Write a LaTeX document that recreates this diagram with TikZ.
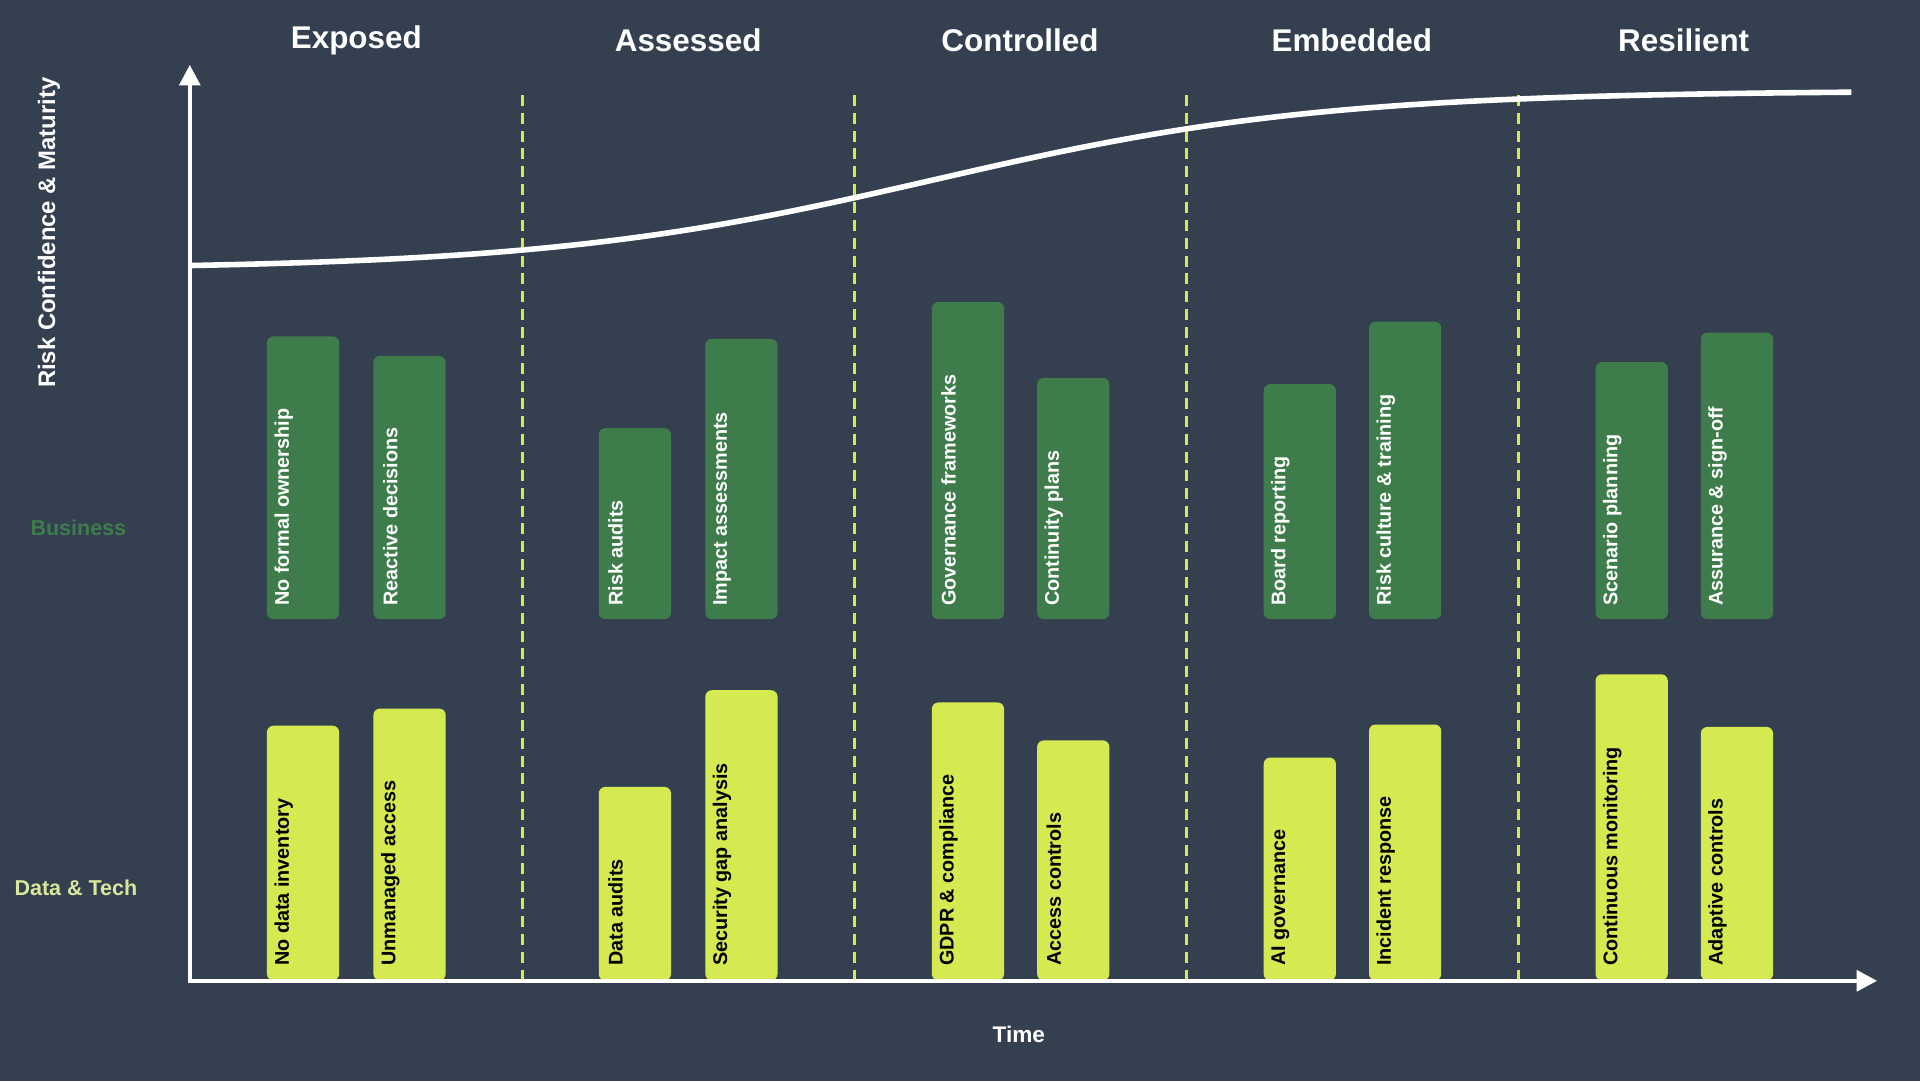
\documentclass[tikz,border=0pt]{standalone}
\usepackage{fontspec}
\setmainfont{Liberation Sans}
\usetikzlibrary{arrows.meta}
\definecolor{bgslate}{HTML}{343F50}
\definecolor{busgreen}{HTML}{3E7D4B}
\definecolor{datlime}{HTML}{D4EA50}
\definecolor{datpale}{HTML}{D9E69B}
\newcommand{\barwd}{1.18cm}

\tikzset{
  busbar/.style={fill=busgreen, rounded corners=3pt, minimum width=\barwd, inner sep=0, anchor=south},
  datbar/.style={fill=datlime, rounded corners=3pt, minimum width=\barwd, inner sep=0, anchor=south},
  buslbl/.style={rotate=90, anchor=west, inner sep=0, text=white, font=\bfseries\fontsize{9.2}{11}\selectfont},
  datlbl/.style={buslbl, text=black},
  stage/.style={text=white, font=\bfseries\fontsize{14.6}{17}\selectfont},
  phase/.style={draw=datlime, line width=1.4pt, dash pattern=on 5.1pt off 3.2pt},
  axisline/.style={draw=white, line width=1.8pt, {Triangle[length=9.5pt,width=9.6pt]}-{Triangle[length=9.5pt,width=9.6pt]}},
}

\begin{document}
\begin{tikzpicture}[x=.02cm, y=.02cm]

        \fill[bgslate] (0,0) rectangle (1568,883);
        \useasboundingbox (0,0) rectangle (1568,883);

          % stages
        \node[stage] (exposed) at (291,850) {Exposed};
        \node[stage] (assessed) at (562,850) {Assessed};
        \node[stage] (controlled) at (833,850) {Controlled};
        \node[stage] (embedded) at (1104,850) {Embedded};
        \node[stage] (resilient) at (1375,850) {Resilient};

        \draw[phase] (427,82) -- (427,810);
        \draw[phase] (698,82) -- (698,810);
        \draw[phase] (969,82) -- (969,810);
        \draw[phase] (1240,82) -- (1240,810);

          % maturity curve
        \draw[white, line width=2.6pt] plot[domain=155:1512, samples=120] (\x, {663+146/(1+exp(-(\x-762)/159))});

          % Exposed
        \node[busbar, minimum height=4.62cm] (b11) at (247.5,377) {};
        \node[busbar, minimum height=4.30cm] (b12) at (334.5,377) {};
        \node[datbar, minimum height=4.16cm] (d11) at (247.5,82) {};
        \node[datbar, minimum height=4.44cm] (d12) at (334.5,82) {};
        \node[buslbl] (lb11) at ([xshift=.28cm,yshift=.22cm]b11.south west) {No formal ownership};
        \node[buslbl] (lb12) at ([xshift=.28cm,yshift=.22cm]b12.south west) {Reactive decisions};
        \node[datlbl] (ld11) at ([xshift=.28cm,yshift=.24cm]d11.south west) {No data inventory};
        \node[datlbl] (ld12) at ([xshift=.28cm,yshift=.24cm]d12.south west) {Unmanaged access};

          % Assessed
        \node[busbar, minimum height=3.12cm] (b21) at (518.5,377) {};
        \node[busbar, minimum height=4.58cm] (b22) at (605.5,377) {};
        \node[datbar, minimum height=3.16cm] (d21) at (518.5,82) {};
        \node[datbar, minimum height=4.74cm] (d22) at (605.5,82) {};
        \node[buslbl] (lb21) at ([xshift=.28cm,yshift=.22cm]b21.south west) {Risk audits};
        \node[buslbl] (lb22) at ([xshift=.28cm,yshift=.22cm]b22.south west) {Impact assessments};
        \node[datlbl] (ld21) at ([xshift=.28cm,yshift=.24cm]d21.south west) {Data audits};
        \node[datlbl] (ld22) at ([xshift=.28cm,yshift=.24cm]d22.south west) {Security gap analysis};

          % Controlled
        \node[busbar, minimum height=5.18cm] (b31) at (790.5,377) {};
        \node[busbar, minimum height=3.94cm] (b32) at (876.5,377) {};
        \node[datbar, minimum height=4.54cm] (d31) at (790.5,82) {};
        \node[datbar, minimum height=3.92cm] (d32) at (876.5,82) {};
        \node[buslbl] (lb31) at ([xshift=.28cm,yshift=.22cm]b31.south west) {Governance frameworks};
        \node[buslbl] (lb32) at ([xshift=.28cm,yshift=.22cm]b32.south west) {Continuity plans};
        \node[datlbl] (ld31) at ([xshift=.28cm,yshift=.24cm]d31.south west) {GDPR \& compliance};
        \node[datlbl] (ld32) at ([xshift=.28cm,yshift=.24cm]d32.south west) {Access controls};

          % Embedded
        \node[busbar, minimum height=3.84cm] (b41) at (1061.5,377) {};
        \node[busbar, minimum height=4.86cm] (b42) at (1147.5,377) {};
        \node[datbar, minimum height=3.64cm] (d41) at (1061.5,82) {};
        \node[datbar, minimum height=4.18cm] (d42) at (1147.5,82) {};
        \node[buslbl] (lb41) at ([xshift=.28cm,yshift=.22cm]b41.south west) {Board reporting};
        \node[buslbl] (lb42) at ([xshift=.28cm,yshift=.22cm]b42.south west) {Risk culture \& training};
        \node[datlbl] (ld41) at ([xshift=.28cm,yshift=.24cm]d41.south west) {AI governance};
        \node[datlbl] (ld42) at ([xshift=.28cm,yshift=.24cm]d42.south west) {Incident response};

          % Resilient
        \node[busbar, minimum height=4.20cm] (b51) at (1332.5,377) {};
        \node[busbar, minimum height=4.68cm] (b52) at (1418.5,377) {};
        \node[datbar, minimum height=5.00cm] (d51) at (1332.5,82) {};
        \node[datbar, minimum height=4.14cm] (d52) at (1418.5,82) {};
        \node[buslbl] (lb51) at ([xshift=.28cm,yshift=.22cm]b51.south west) {Scenario planning};
        \node[buslbl] (lb52) at ([xshift=.28cm,yshift=.22cm]b52.south west) {Assurance \& sign-off};
        \node[datlbl] (ld51) at ([xshift=.28cm,yshift=.24cm]d51.south west) {Continuous monitoring};
        \node[datlbl] (ld52) at ([xshift=.28cm,yshift=.24cm]d52.south west) {Adaptive controls};

          % axes
        \coordinate (origin) at (155,82);
        \coordinate (ytop) at (155,830);
        \coordinate (xend) at (1533,82);
        \draw[axisline] (ytop) -- (origin) -- (xend);

        \node[rotate=90, text=white, font=\bfseries\fontsize{11.1}{13}\selectfont] (ylab) at (40,693) {Risk Confidence \& Maturity};
        \node[text=busgreen, font=\bfseries\fontsize{10}{12}\selectfont] (buslab) at (64,452) {Business};
        \node[text=datpale, font=\bfseries\fontsize{10}{12}\selectfont] (datlab) at (62,158) {Data \& Tech};
        \node[text=white, font=\bfseries\fontsize{10.5}{12}\selectfont] (timelab) at (832,38) {Time};

        \end{tikzpicture}
\end{document}
